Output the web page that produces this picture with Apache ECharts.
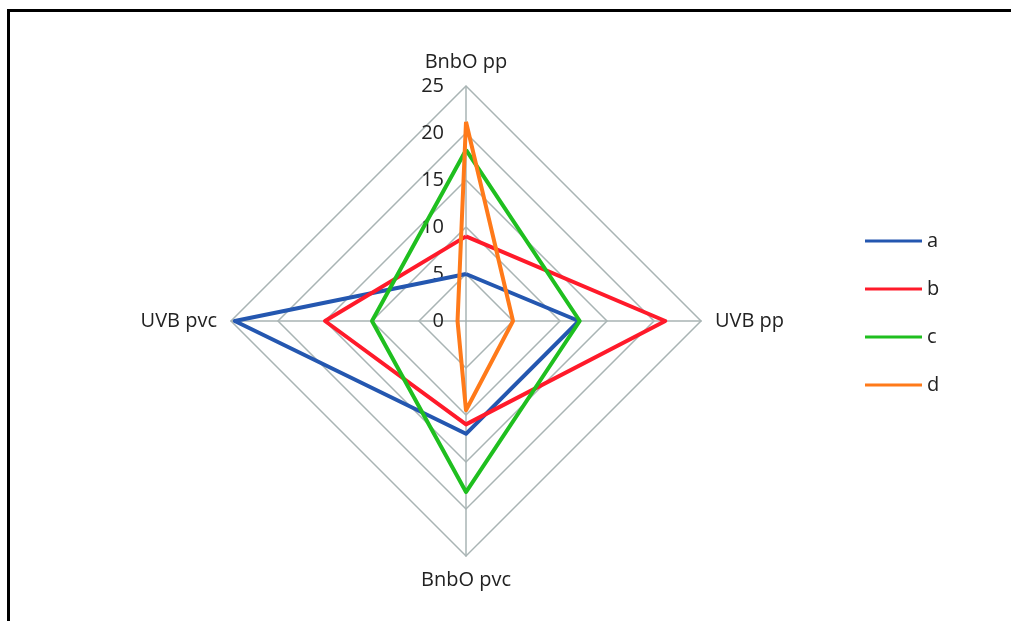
<!DOCTYPE html>
<html><head><meta charset="utf-8">
<script src="https://cdn.jsdelivr.net/npm/echarts@6/dist/echarts.min.js"></script>
<style>
html,body{margin:0;padding:0;background:#fff;}
#c{width:1011px;height:621px;position:relative;}
#frame{position:absolute;left:7px;top:9px;width:1004px;height:612px;border-top:3px solid #000;border-left:3px solid #000;box-sizing:border-box;pointer-events:none;z-index:10;}
</style></head>
<body>
<div id="c"></div><div id="frame"></div>
<script>
// indicators listed counter-clockwise from top (ECharts order)
const indicators = ['BnbO pp', 'UVB pvc', 'BnbO pvc', 'UVB pp'];
const seriesNames = ['a', 'b', 'c', 'd'];
const aValues = [5, 24.6, 12, 12];
const bValues = [9, 15, 11, 21.2];
const cValues = [18.2, 10, 18.2, 12.1];
const dValues = [21.2, 0.9, 9.5, 5];
const colors = ['#2457b0', '#ff1a2a', '#1fbf1f', '#ff7a1a'];
const axisMax = 25;

const chart = echarts.init(document.getElementById('c'));
const allValues = [aValues, bValues, cValues, dValues];
const font = 'Open Sans';
chart.setOption({
  animation: false,
  legend: {
    orient: 'vertical', left: 860, top: 226, itemGap: 28,
    itemWidth: 57, itemHeight: 3, icon: 'rect',
    textStyle: {fontFamily: font, fontSize: 20, color: '#222', padding: [8, 0, 0, 0]},
    data: seriesNames
  },
  radar: {
    center: [466, 321], radius: 235, startAngle: 90, shape: 'polygon',
    splitNumber: 5,
    indicator: indicators.map((n, i) => ({
      name: n, min: 0, max: axisMax,
      axisLabel: i === 0 ? {show: true} : undefined
    })),
    axisName: {color: '#222', fontFamily: font, fontSize: 20},
    nameGap: 14,
    axisLine: {lineStyle: {color: '#a9b4b4', width: 1.5}},
    splitLine: {lineStyle: {color: '#a9b4b4', width: 1.5}},
    splitArea: {show: false},
    axisTick: {show: false},
    axisLabel: {show: false, color: '#222', fontFamily: font, fontSize: 20, margin: 22}
  },
  series: [{
    type: 'radar', symbol: 'none',
    data: allValues.map((v, i) => ({
      name: seriesNames[i], value: v,
      lineStyle: {color: colors[i], width: 4},
      itemStyle: {color: colors[i]}
    }))
  }]
});
</script>
</body></html>
